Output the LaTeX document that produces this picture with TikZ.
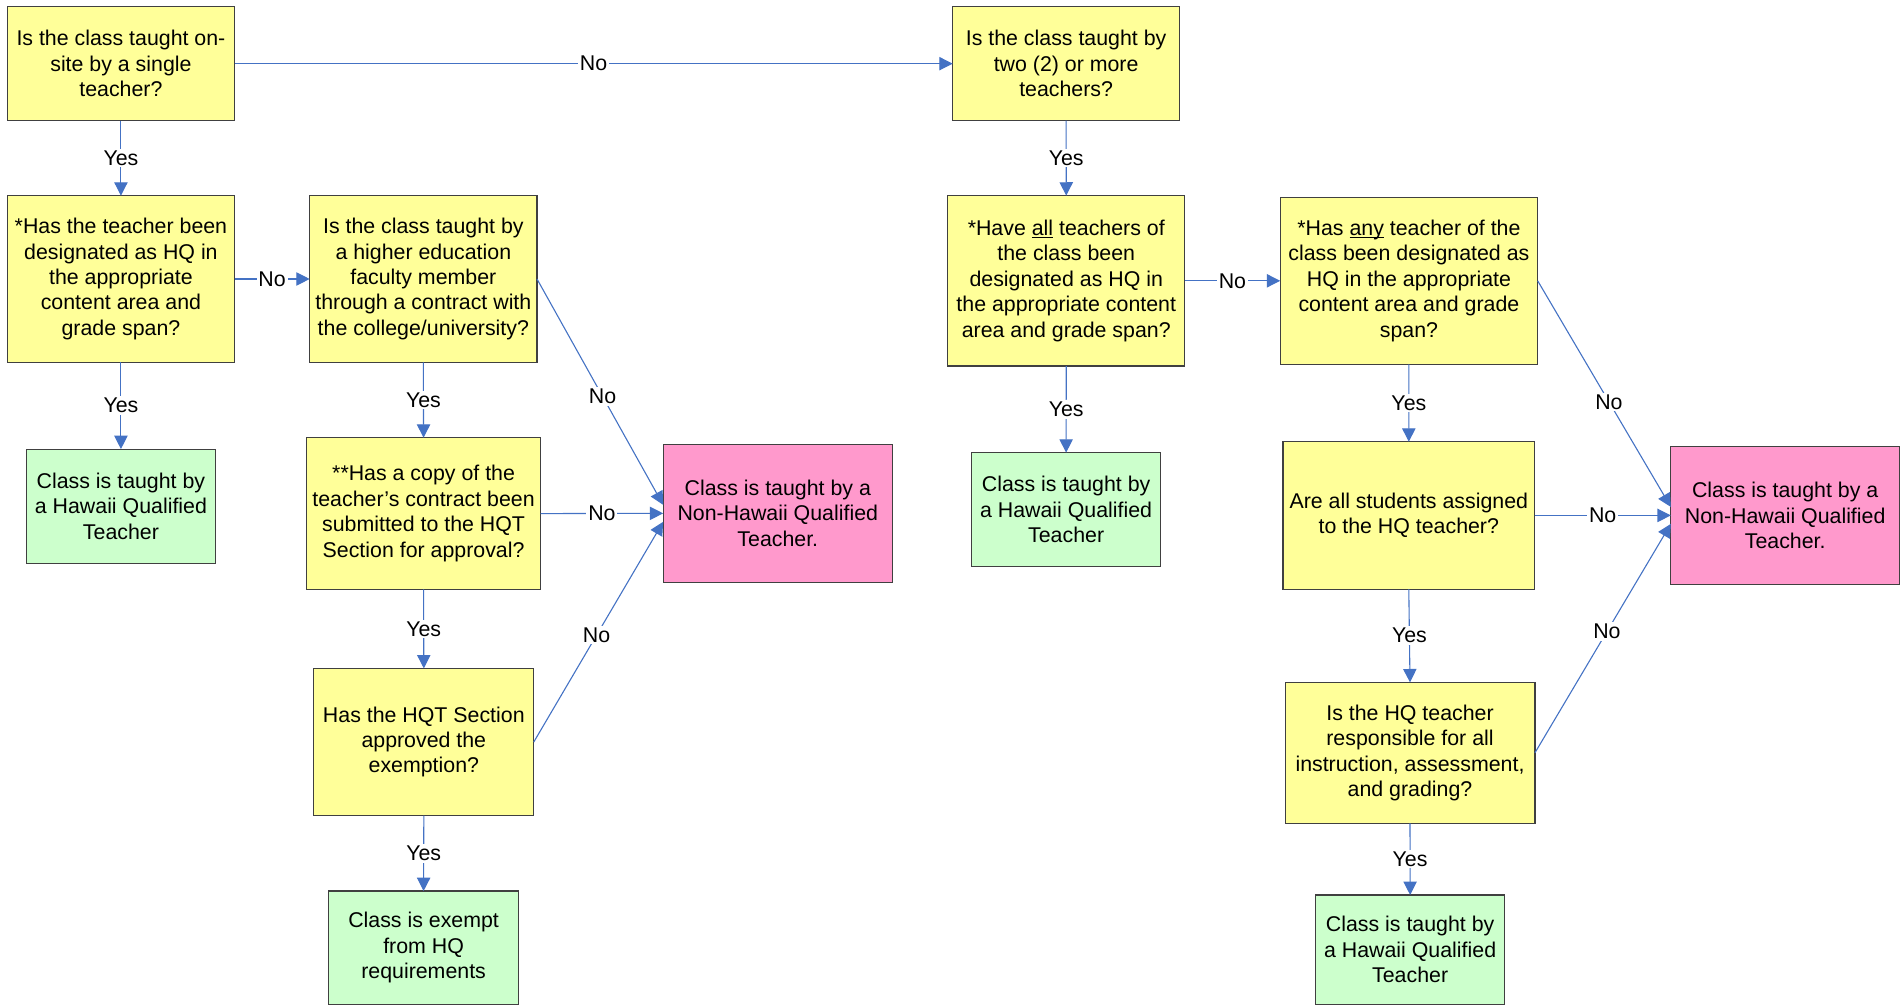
\documentclass[tikz,border=0pt]{standalone}
\usepackage{fontspec}
\setmainfont{Liberation Sans}
\usetikzlibrary{arrows.meta,calc}
\definecolor{conn}{RGB}{68,114,196}
\definecolor{qfill}{RGB}{255,255,153}
\definecolor{gfill}{RGB}{204,255,204}
\definecolor{pfill}{RGB}{255,153,204}
\newcommand\myul[1]{\underline{\smash{#1}}}
\begin{document}
\begin{tikzpicture}[x=1pt,y=-1pt,
  every node/.style={font=\fontsize{17.6}{21}\selectfont},
  boxbase/.style={draw=black!75,line width=0.9pt,align=center,inner sep=0pt,outer sep=0pt},
  qbox/.style={boxbase,fill=qfill},
  gbox/.style={boxbase,fill=gfill},
  pbox/.style={boxbase,fill=pfill},
  conn/.style={draw=conn,line width=0.9pt,-{Triangle[length=11pt,width=11pt]}},
  lbl/.style={fill=white,inner sep=1.5pt,text=black}
]
\useasboundingbox (0,0) rectangle (1568,828.5);
\fill[white] (0,0) rectangle (1568,828.5);

% left column
\node[qbox,minimum width=187.3pt,minimum height=94pt] (B1) at (99.7,52.5)
  {Is the class taught on-\\site by a single\\teacher?};
\node[qbox,minimum width=187.3pt,minimum height=137.4pt] (B2) at (99.7,230)
  {*Has the teacher been\\designated as HQ in\\the appropriate\\content area and\\grade span?};
\node[gbox,minimum width=156pt,minimum height=94pt] (G1) at (99.7,417.2)
  {Class is taught by\\a Hawaii Qualified\\Teacher};
\node[qbox,minimum width=187.4pt,minimum height=137.4pt] (B3) at (349,230)
  {Is the class taught by\\a higher education\\faculty member\\through a contract with\\the college/university?};
\node[qbox,minimum width=193pt,minimum height=125.1pt] (B7) at (349.2,423.4)
  {**Has a copy of the\\teacher’s contract been\\submitted to the HQT\\Section for approval?};
\node[qbox,minimum width=181.3pt,minimum height=121.4pt] (B8) at (349.4,611.7)
  {Has the HQT Section\\approved the\\exemption?};
\node[gbox,minimum width=156.3pt,minimum height=93.5pt] (G3) at (349.2,781.3)
  {Class is exempt\\from HQ\\requirements};
\node[pbox,minimum width=189pt,minimum height=113.8pt] (P1) at (641.2,423.2)
  {Class is taught by a\\Non-Hawaii Qualified\\Teacher.};

% right part
\node[qbox,minimum width=187.1pt,minimum height=94pt] (B4) at (878.9,52.5)
  {Is the class taught by\\two (2) or more\\teachers?};
\node[qbox,minimum width=195.3pt,minimum height=140.5pt] (B5) at (879,231.5)
  {*Have \myul{all} teachers of\\the class been\\designated as HQ in\\the appropriate content\\area and grade span?};
\node[gbox,minimum width=155.7pt,minimum height=93.7pt] (G2) at (878.9,420)
  {Class is taught by\\a Hawaii Qualified\\Teacher};
\node[qbox,minimum width=212.3pt,minimum height=137.7pt] (B6) at (1161.5,231.5)
  {*Has \myul{any} teacher of the\\class been designated as\\HQ in the appropriate\\content area and grade\\span?};
\node[qbox,minimum width=207.4pt,minimum height=121.5pt] (B9) at (1161.4,424.9)
  {Are all students assigned\\to the HQ teacher?};
\node[qbox,minimum width=206pt,minimum height=116.2pt] (B10) at (1162.4,620.6)
  {Is the HQ teacher\\responsible for all\\instruction, assessment,\\and grading?};
\node[gbox,minimum width=155.7pt,minimum height=90.2pt] (G4) at (1162.5,782.9)
  {Class is taught by\\a Hawaii Qualified\\Teacher};
\node[pbox,minimum width=188.6pt,minimum height=113.2pt] (P2) at (1471.7,424.9)
  {Class is taught by a\\Non-Hawaii Qualified\\Teacher.};

% connectors left
\draw[conn] (B1.east) -- node[lbl] {No} (B4.west);
\draw[conn] (B1.south) -- node[lbl] {Yes} (B2.north);
\draw[conn] (B2.south) -- node[lbl] {Yes} (G1.north);
\draw[conn] (B2.east) -- node[lbl] {No} (B3.west);
\draw[conn] (B3.south) -- node[lbl] {Yes} (B7.north);
\draw[conn] (B7.south) -- node[lbl] {Yes} (B8.north);
\draw[conn] (B8.south) -- node[lbl] {Yes} (G3.north);
\draw[conn] (B3.east) -- node[lbl,pos=0.52] {No} ([yshift=7pt]P1.west);
\draw[conn] (B7.east) -- node[lbl] {No} (P1.west);
\draw[conn] (B8.east) -- node[lbl,pos=0.485] {No} ([yshift=-7pt]P1.west);

% connectors right
\draw[conn] (B4.south) -- node[lbl] {Yes} (B5.north);
\draw[conn] (B5.south) -- node[lbl] {Yes} (G2.north);
\draw[conn] (B5.east) -- node[lbl] {No} (B6.west);
\draw[conn] (B6.south) -- node[lbl] {Yes} (B9.north);
\draw[conn] (B6.east) -- node[lbl,pos=0.535] {No} ([yshift=7pt]P2.west);
\draw[conn] (B9.east) -- node[lbl] {No} (P2.west);
\draw[conn] (B9.south) -- node[lbl] {Yes} (B10.north);
\draw[conn] (B10.east) -- node[lbl,pos=0.53] {No} ([yshift=-7pt]P2.west);
\draw[conn] (B10.south) -- node[lbl] {Yes} (G4.north);
\end{tikzpicture}
\end{document}
